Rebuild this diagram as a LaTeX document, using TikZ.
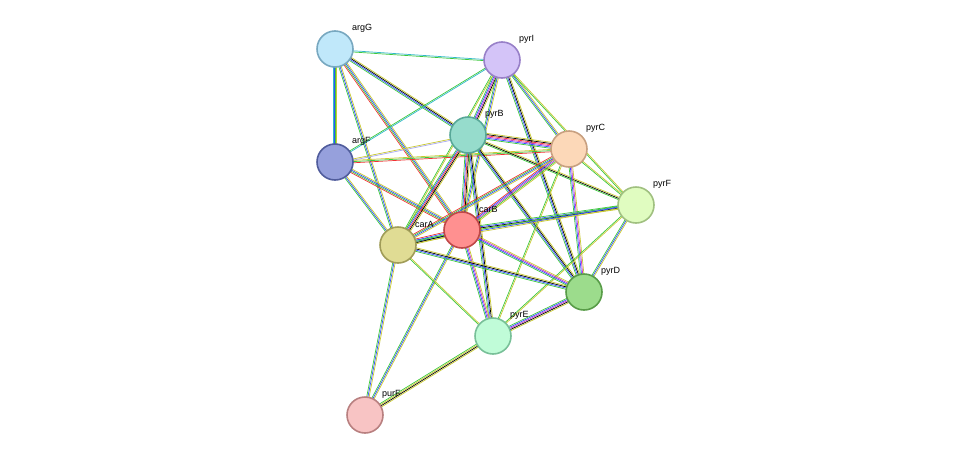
\documentclass[tikz,border=0pt]{standalone}
\usepackage{fontspec}
\setmainfont{Liberation Sans}
\usetikzlibrary{calc,positioning}

\definecolor{ctm}{HTML}{3CC83C}
\definecolor{cco}{HTML}{C8C832}
\definecolor{cex}{HTML}{3250FF}
\definecolor{cdb}{HTML}{30B8C8}
\definecolor{cmg}{HTML}{C832C8}
\definecolor{crd}{HTML}{F03232}
\definecolor{clv}{HTML}{A8A8F0}

% one line per evidence channel, set side by side
\newcommand\strlink[3]{%
  \foreach \c [count=\i] in {#3} {
    \draw[\c, line width=0.7pt] let \p1=($(#2)-(#1)$), \n1={atan2(\y1,\x1)+90} in
      ($(#1)+(\n1:{(\i-2.5)*1.2pt})$) -- ($(#2)+(\n1:{(\i-2.5)*1.2pt})$);
  }%
}

\begin{document}
\begin{tikzpicture}[x=1pt,y=-1pt,
prot/.style={circle, draw, line width=1.6pt, minimum size=36pt, inner sep=0pt},
plabel/.style={anchor=west, font=\fontsize{9}{10}\selectfont, inner sep=0pt},
]
\useasboundingbox (0,0) rectangle (976,461);

\coordinate (argG) at (335,49);
\coordinate (pyrI) at (502,60);
\coordinate (pyrB) at (468,135);
\coordinate (argF) at (335,162);
\coordinate (pyrC) at (569,149);
\coordinate (pyrF) at (636,205);
\coordinate (carB) at (462,230);
\coordinate (carA) at (398,245);
\coordinate (pyrD) at (584,292);
\coordinate (pyrE) at (493,336);
\coordinate (purF) at (365,415);

\strlink{argG}{pyrI}{ctm,cdb}
\strlink{argG}{argF}{cdb,cex,ctm,cco}
\strlink{argG}{pyrB}{ctm,cex,black,cco}
\strlink{argG}{carA}{ctm,cex,cco}
\strlink{argG}{carB}{crd,ctm,cex,cco}
\strlink{pyrI}{pyrB}{ctm,cex,cmg,black,cco}
\strlink{pyrI}{argF}{ctm,cdb}
\strlink{pyrI}{carA}{ctm,cco}
\strlink{pyrI}{carB}{ctm,cex,cco}
\strlink{pyrI}{pyrC}{ctm,cex,cco}
\strlink{pyrI}{pyrF}{ctm,cco}
\strlink{pyrI}{pyrD}{ctm,cex,black,cco}
\strlink{argF}{pyrB}{clv,cco}
\strlink{argF}{pyrC}{crd,ctm,cco}
\strlink{argF}{carA}{ctm,cex,cco}
\strlink{argF}{carB}{crd,ctm,cex,cco}
\strlink{pyrB}{pyrC}{ctm,cex,cmg,crd,black,cco}
\strlink{pyrB}{carB}{ctm,cex,crd,black,cco}
\strlink{pyrB}{carA}{ctm,cex,crd,black,cco}
\strlink{pyrB}{pyrF}{ctm,black,cco}
\strlink{pyrB}{pyrD}{ctm,cex,black,cco}
\strlink{pyrB}{pyrE}{ctm,cex,black,cco}
\strlink{pyrC}{carB}{crd,cex,cmg,ctm,cco}
\strlink{pyrC}{carA}{crd,ctm,cex,cco}
\strlink{pyrC}{pyrF}{ctm,cco}
\strlink{pyrC}{pyrD}{ctm,cex,cmg,cco}
\strlink{pyrC}{pyrE}{ctm,cco}
\strlink{pyrF}{carB}{ctm,cex,black,cco}
\strlink{pyrF}{carA}{ctm,cex,cco}
\strlink{pyrF}{pyrD}{ctm,cex,cco}
\strlink{pyrF}{pyrE}{ctm,cco}
\strlink{carB}{carA}{crd,cex,ctm,black,cco}
\strlink{carB}{pyrD}{ctm,cex,cmg,cco}
\strlink{carB}{pyrE}{ctm,cex,cmg,cco}
\strlink{carB}{purF}{ctm,cex,cco}
\strlink{carA}{pyrD}{ctm,cex,black,cco}
\strlink{carA}{pyrE}{ctm,cco}
\strlink{carA}{purF}{ctm,cex,cco}
\strlink{pyrD}{pyrE}{ctm,cex,cmg,black,cco}
\strlink{pyrE}{purF}{ctm,cco,black,cco}

% proteins
\foreach \p/\f/\d in {argG/C0E8FA/78A8C0, pyrI/D4C4F8/9880C8, pyrB/96DCCC/58A898,
  argF/96A0DC/505C9C, pyrC/FCD8B8/C8A080, pyrF/E0FCC0/A0C080, carB/FF9090/C04848,
  carA/E0DC94/A09C58, pyrD/9CDC8C/589C48, pyrE/C0FCD8/78C098, purF/F8C4C4/B88080} {
  \definecolor{pfill}{HTML}{\f}
  \definecolor{pdraw}{HTML}{\d}
  \node[prot, fill=pfill, draw=pdraw] (n\p) at (\p) {};
  \node[plabel] (l\p) at ($(\p)+(17,-21)$) {\p};
}
\end{tikzpicture}
\end{document}
